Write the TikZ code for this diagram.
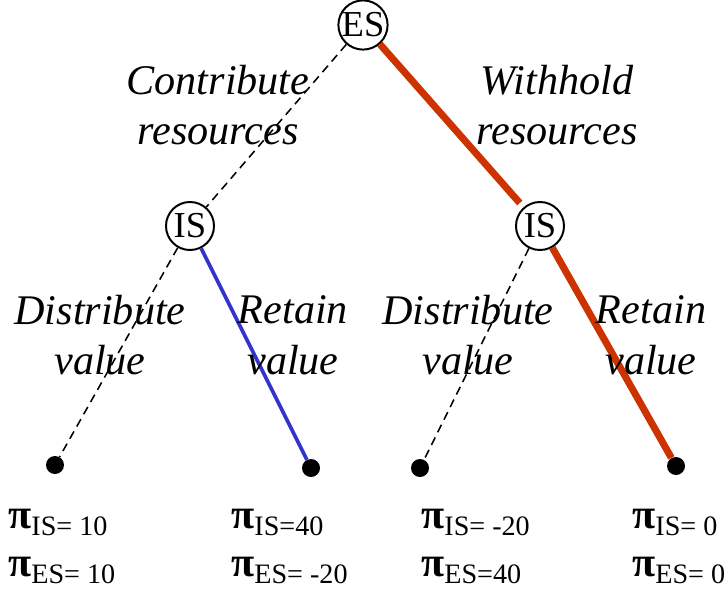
\documentclass[tikz,border=0pt]{standalone}
\usepackage{fontspec}
\setmainfont{Liberation Serif}
\definecolor{treered}{RGB}{204,51,0}
\definecolor{treeblue}{RGB}{51,51,204}
\newlength{\unitpx}
\setlength{\unitpx}{0.025cm}
\tikzset{
  player/.style={circle, draw, line width=1.4pt, minimum size=48\unitpx, inner sep=0pt,
    font=\fontsize{26}{26}\selectfont},
  leaf/.style={circle, fill, minimum size=18\unitpx, inner sep=0pt},
  move/.style={font=\fontsize{30}{36}\selectfont\itshape, align=center},
  payoff/.style={anchor=base west, inner sep=0pt},
  chance/.style={line width=1.1pt, dash pattern=on 6pt off 4pt},
  choice/.style={treered, line width=5pt},
  reply/.style={treeblue, line width=2.6pt}
}
\newcommand{\payoffline}[2]{{\fontsize{30}{30}\selectfont\bfseries π}\raisebox{-5pt}{\fontsize{20}{20}\selectfont #1= #2}}
\newcommand{\payofftight}[2]{{\fontsize{30}{30}\selectfont\bfseries π}\raisebox{-5pt}{\fontsize{20}{20}\selectfont #1=#2}}
\begin{document}
\begin{tikzpicture}[x=0.025cm, y=-0.025cm]
    \useasboundingbox (0,0) rectangle (728,590);

    % Decision nodes
    \node[player] (ES) at (363, 25) {ES};
    \node[player] (ISl) at (190, 226) {IS};
    \node[player] (ISr) at (540, 226) {IS};

    % End points
    \node[leaf] (o1) at (55, 465) {};
    \node[leaf] (o2) at (311, 468) {};
    \node[leaf] (o3) at (420, 468) {};
    \node[leaf] (o4) at (676, 466) {};

    % Branches
    \draw[chance] (ES) -- (ISl);
    \draw[choice, shorten >=4pt] (ES) -- (ISr);
    \draw[chance] (ISl) -- (o1);
    \draw[reply] (ISl) -- (o2);
    \draw[chance] (ISr) -- (o3);
    \draw[choice] (ISr) -- (o4);

    % Move labels
    \node[move] (contrib) at (218, 105) {Contribute\\resources};
    \node[move] (withhold) at (557, 105) {Withhold\\resources};
    \node[move] (distl) at (100, 335) {Distribute\\value};
    \node[move] (retl) at (293, 335) {Retain\\value};
    \node[move] (distr) at (468, 335) {Distribute\\value};
    \node[move] (retr) at (651, 335) {Retain\\value};

    % Payoffs
    \node[payoff] (p1is) at (8, 528) {\payoffline{IS}{10}};
    \node[payoff] (p1es) at (8, 576) {\payoffline{ES}{10}};
    \node[payoff] (p2is) at (231, 528) {\payofftight{IS}{40}};
    \node[payoff] (p2es) at (231, 576) {\payoffline{ES}{-20}};
    \node[payoff] (p3is) at (421, 528) {\payoffline{IS}{-20}};
    \node[payoff] (p3es) at (421, 576) {\payofftight{ES}{40}};
    \node[payoff] (p4is) at (632, 528) {\payoffline{IS}{0}};
    \node[payoff] (p4es) at (632, 576) {\payoffline{ES}{0}};
\end{tikzpicture}
\end{document}
